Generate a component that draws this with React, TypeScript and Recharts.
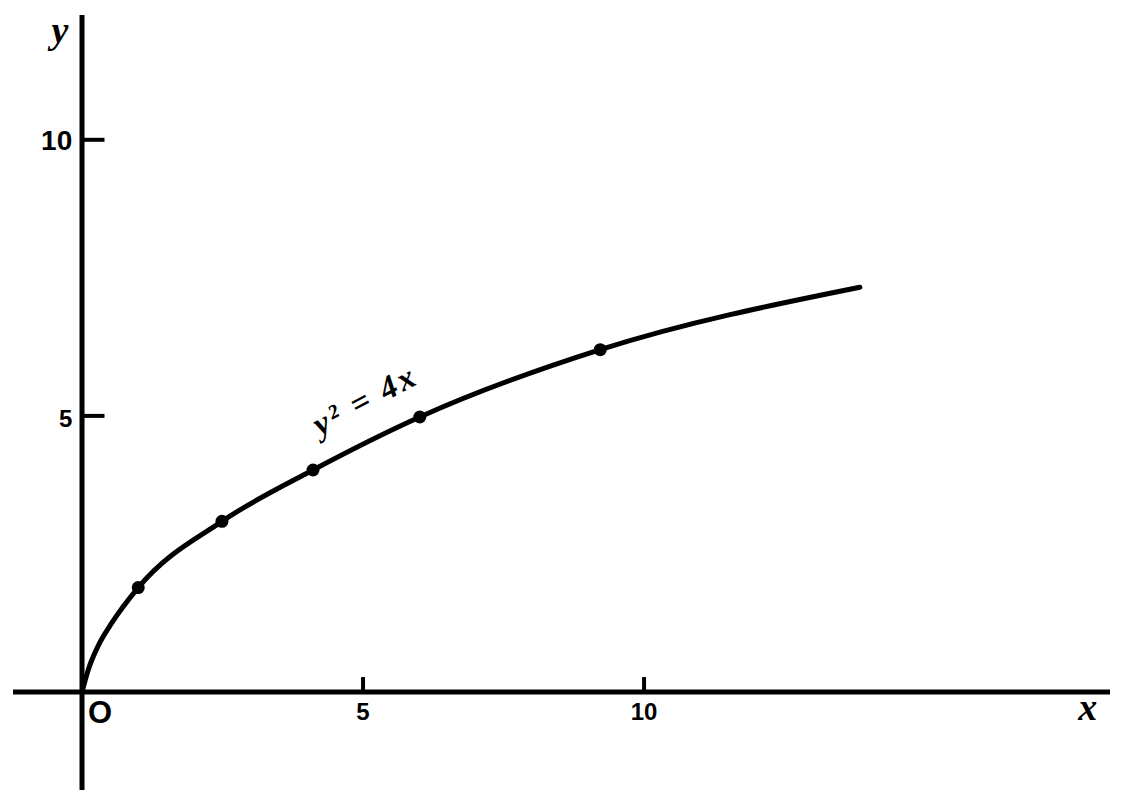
import React from "react"
import {
  ComposedChart,
  XAxis,
  YAxis,
  Line,
  Scatter,
  ReferenceLine,
  ReferenceDot,
} from "recharts"

// curve y^2 = 4x
const curveX = [0, 0.11, 0.28, 0.53, 1.0, 2.49, 4.11, 6.01, 9.22, 13.84]
const curveY = [0, 0.4, 0.82, 1.25, 1.89, 3.09, 4.02, 4.98, 6.2, 7.33]

// plotted points
const markerX = [1.0, 2.49, 4.11, 6.01, 9.22]
const markerY = [1.89, 3.09, 4.02, 4.98, 6.2]

const xTicks = [5, 10]
const yTicks = [5, 10]
const xTickLabels = ["5", "10"]
const yTickLabels = ["5", "10"]

const curve = curveX.map((x, i) => ({ x, y: curveY[i] }))
const markers = markerX.map((x, i) => ({ x, y: markerY[i] }))

const numFont = "'Liberation Sans', Arial, sans-serif"
const letterFont = "'Liberation Serif', 'Times New Roman', serif"

function textAt(
  text: string,
  dx: number,
  dy: number,
  opts: { size: number; anchor?: string; family?: string; italic?: boolean; bold?: boolean; rotate?: number; spacing?: number }
) {
  return (props: any) => {
    const vb = props.viewBox || {}
    const cx = (vb.x ?? 0) + (vb.width ?? 0) / 2 + dx
    const cy = (vb.y ?? 0) + (vb.height ?? 0) / 2 + dy
    return (
      <text
        x={cx}
        y={cy}
        textAnchor={(opts.anchor as any) || "middle"}
        fontFamily={opts.family || numFont}
        fontSize={opts.size}
        fontStyle={opts.italic ? "italic" : "normal"}
        fontWeight={opts.bold === false ? 400 : 700}
        letterSpacing={opts.spacing || 0}
        fill="#000"
        transform={opts.rotate ? `rotate(${opts.rotate} ${cx} ${cy})` : undefined}
      >
        {text}
      </text>
    )
  }
}

export default function App() {
  return (
    <div style={{ position: "absolute", left: 0, top: 0, width: 1122, height: 804, background: "#fff" }}>
      <ComposedChart
        width={1122}
        height={804}
        margin={{ top: 15, right: 12, bottom: 14, left: 13 }}
      >
        <XAxis dataKey="x" type="number" domain={[-1.228, 18.29]} hide allowDataOverflow />
        <YAxis type="number" domain={[-1.775, 12.26]} hide allowDataOverflow />

        {/* axes through the origin */}
        <ReferenceLine x={0} stroke="#000" strokeWidth={5} />
        <ReferenceLine y={0} stroke="#000" strokeWidth={5} />

        {xTicks.map((t, i) => (
          <ReferenceLine
            key={"xt" + t}
            segment={[{ x: t, y: 0 }, { x: t, y: 0.27 }]}
            stroke="#000"
            strokeWidth={4}
            label={textAt(xTickLabels[i], 0, 35, { size: 24 })}
          />
        ))}
        {yTicks.map((t, i) => (
          <ReferenceLine
            key={"yt" + t}
            segment={[{ x: 0, y: t }, { x: 0.4, y: t }]}
            stroke="#000"
            strokeWidth={4}
            label={textAt(yTickLabels[i], -21, t === 10 ? 10 : 11, { size: t === 10 ? 28 : 24, anchor: "end" })}
          />
        ))}

        <Line
          data={curve}
          dataKey="y"
          type="monotone"
          stroke="#000"
          strokeWidth={5}
          strokeLinecap="round"
          dot={false}
          activeDot={false}
          isAnimationActive={false}
        />
        <Scatter
          data={markers}
          dataKey="y"
          fill="#000"
          isAnimationActive={false}
          shape={(p: any) => <circle cx={p.cx} cy={p.cy} r={6.5} fill="#000" />}
        />

        {/* text labels */}
        <ReferenceDot x={0} y={0} r={1} fill="none" stroke="none"
          label={textAt("O", 18, 31, { size: 31 })} />
        <ReferenceDot x={18} y={0} r={1} fill="none" stroke="none"
          label={textAt("x", -6, 28, { size: 38, italic: true, family: letterFont })} />
        <ReferenceDot x={0} y={12} r={1} fill="none" stroke="none"
          label={textAt("y", -22, 14, { size: 38, italic: true, family: letterFont })} />
        <ReferenceDot x={5.2} y={4.9} r={1} fill="none" stroke="none"
          label={textAt("y\u00b2 = 4x", -4, -12, { size: 33, italic: true, family: letterFont, rotate: -28, spacing: 3 })} />
      </ComposedChart>
    </div>
  )
}
